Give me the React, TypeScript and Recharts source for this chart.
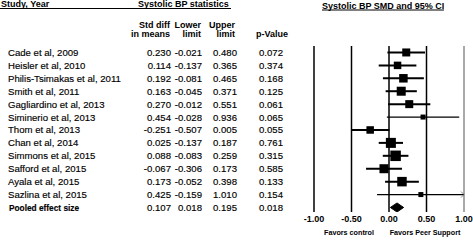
import React from 'react';
import { ScatterChart, Scatter, XAxis, YAxis, ReferenceLine, ReferenceDot, Customized } from 'recharts';

const studies = [
  'Cade et al, 2009',
  'Heisler et al, 2010',
  'Philis-Tsimakas et al,  2011',
  'Smith et al, 2011',
  'Gagliardino et al,  2013',
  'Siminerio et al, 2013',
  'Thom et al, 2013',
  'Chan et al, 2014',
  'Simmons et al, 2015',
  'Safford et al, 2015',
  'Ayala et al, 2015',
  'Sazlina et al, 2015',
];
const stdDiff = [0.230, 0.114, 0.192, 0.163, 0.270, 0.454, -0.251, 0.025, 0.088, -0.067, 0.173, 0.425];
const lowerLimit = [-0.021, -0.137, -0.081, -0.045, -0.012, -0.028, -0.507, -0.137, -0.083, -0.306, -0.052, -0.159];
const upperLimit = [0.480, 0.365, 0.465, 0.371, 0.551, 0.936, 0.005, 0.187, 0.259, 0.173, 0.398, 1.010];
const pValues = [0.072, 0.374, 0.168, 0.125, 0.061, 0.065, 0.055, 0.761, 0.315, 0.585, 0.133, 0.154];
const relativeWeight = [8, 7.5, 8.5, 9, 8, 5, 7.5, 10, 10.5, 9, 9.5, 5];

const pooledLabel = 'Pooled effect size';
const pooled = { est: 0.107, lower: 0.018, upper: 0.195, p: 0.018 };

const xTicks = [-1, -0.5, 0, 0.5, 1];
const xMin = -1;
const xMax = 1;

const FONT = '"Liberation Sans", Arial, sans-serif';

const rowCount = studies.length + 1;
const rowIndex = Array.from({ length: rowCount }, (_, i) => i);
const pooledRow = studies.length;

const squares = studies.map((s, i) => ({ x: stdDiff[i], y: i, w: relativeWeight[i] }));
const diamond = [
  { x: pooled.lower, y: pooledRow },
  { x: pooled.est, y: pooledRow - 0.35 },
  { x: pooled.upper, y: pooledRow },
  { x: pooled.est, y: pooledRow + 0.35 },
  { x: pooled.lower, y: pooledRow },
];

const f3 = (v: number) => v.toFixed(3);

const SquareShape = (props: any) => {
  const { cx, cy, payload } = props;
  const s = payload.w;
  return <rect x={cx - s / 2} y={cy - s / 2} width={s} height={s} fill="#000" />;
};

const NoShape = () => <g />;

const RowTick = (props: any) => {
  const { y, payload } = props;
  const i = payload.value as number;
  const isPooled = i === pooledRow;
  const name = isPooled ? pooledLabel : studies[i];
  const est = isPooled ? pooled.est : stdDiff[i];
  const lo = isPooled ? pooled.lower : lowerLimit[i];
  const hi = isPooled ? pooled.upper : upperLimit[i];
  const p = isPooled ? pooled.p : pValues[i];
  const common = {
    y: y + 3.5,
    fontFamily: FONT,
    fontSize: 9.6,
    fill: '#000',
    stroke: '#000',
    strokeWidth: 0.15,
  } as any;
  return (
    <g>
      <text x={isPooled ? 9 : 8} {...common} fontSize={isPooled ? 8.3 : 9.6} fontWeight={isPooled ? 'bold' : 'normal'}>
        {name}
      </text>
      <text x={171} textAnchor="end" {...common}>{f3(est)}</text>
      <text x={202} textAnchor="end" {...common}>{f3(lo)}</text>
      <text x={237} textAnchor="end" {...common}>{f3(hi)}</text>
      <text x={283} textAnchor="end" {...common}>{f3(p)}</text>
    </g>
  );
};

const XTick = (props: any) => {
  const { x, payload } = props;
  return (
    <text x={x} y={222} textAnchor="middle" fontFamily={FONT} fontSize={9} fontWeight="bold" fill="#000">
      {Number(payload.value).toFixed(2)}
    </text>
  );
};

const Headers = () => {
  const h = { fontFamily: FONT, fontSize: 9, fontWeight: 'bold', fill: '#000' } as any;
  return (
    <g>
      <text x={1} y={7} {...h}>Study, Year</text>
      <text x={138} y={7} {...h}>Systolic BP statistics</text>
      <line x1={0} x2={231} y1={8.5} y2={8.5} stroke="#000" strokeWidth={1} />
      <text x={322} y={8.5} {...h}>Systolic BP SMD and 95% CI</text>
      <line x1={322} x2={444} y1={10} y2={10} stroke="#000" strokeWidth={1} />
      <text x={170} y={27.5} textAnchor="end" {...h}>Std diff</text>
      <text x={170} y={37} textAnchor="end" {...h}>in means</text>
      <text x={201} y={27.5} textAnchor="end" {...h}>Lower</text>
      <text x={201} y={37} textAnchor="end" {...h}>limit</text>
      <text x={235} y={27.5} textAnchor="end" {...h}>Upper</text>
      <text x={235} y={37} textAnchor="end" {...h}>limit</text>
      <text x={288} y={37} textAnchor="end" {...h}>p-Value</text>
      <text x={349} y={235} textAnchor="middle" {...h} fontSize={7.2}>Favors control</text>
      <text x={425} y={235} textAnchor="middle" {...h} fontSize={7.2}>Favors Peer Support</text>
    </g>
  );
};

const ArrowShape = (props: any) => {
  const { cx, cy } = props;
  return (
    <path d={`M${cx - 3},${cy - 3} L${cx},${cy} L${cx - 3},${cy + 3}`} stroke="#888" strokeWidth={1} fill="none" />
  );
};

export default function App() {
  return (
    <div style={{ position: 'absolute', left: 0, top: 0, width: 473, height: 241, background: '#fff' }}>
      <ScatterChart
        width={473}
        height={241}
        margin={{ top: 46, right: 9, bottom: 9, left: 0 }}
        style={{ fontFamily: FONT }}
      >
        <XAxis
          type="number"
          dataKey="x"
          domain={[xMin, xMax]}
          ticks={xTicks}
          interval={0}
          allowDataOverflow
          axisLine={false}
          tickLine={false}
          height={20}
          tick={<XTick />}
        />
        <YAxis
          type="number"
          dataKey="y"
          domain={[-0.5, pooledRow + 0.35]}
          reversed
          ticks={rowIndex}
          interval={0}
          allowDataOverflow
          axisLine={false}
          tickLine={false}
          width={314}
          tick={<RowTick />}
        />
        {xTicks.map((t) => (
          <ReferenceLine
            key={`v${t}`}
            x={t}
            stroke={t === xMax ? '#8c8c8c' : '#000'}
            strokeWidth={1.5}
            ifOverflow="visible"
          />
        ))}
        {studies.map((s, i) => (
          <ReferenceLine
            key={`ci${i}`}
            segment={[
              { x: Math.max(lowerLimit[i], xMin), y: i },
              { x: Math.min(upperLimit[i], xMax), y: i },
            ]}
            stroke="#000"
            strokeWidth={relativeWeight[i] < 6 ? 1.2 : 2}
            ifOverflow="visible"
          />
        ))}
        {studies.map((s, i) =>
          upperLimit[i] > xMax ? (
            <ReferenceDot key={`ar${i}`} x={xMax} y={i} ifOverflow="visible" shape={<ArrowShape />} />
          ) : null
        )}
        <Scatter data={squares} shape={<SquareShape />} isAnimationActive={false} />
        <Scatter
          data={diamond}
          shape={<NoShape />}
          line={{ stroke: '#000', fill: '#000', strokeWidth: 1 }}
          lineType="joint"
          isAnimationActive={false}
        />
        <Customized component={<Headers />} />
      </ScatterChart>
    </div>
  );
}
